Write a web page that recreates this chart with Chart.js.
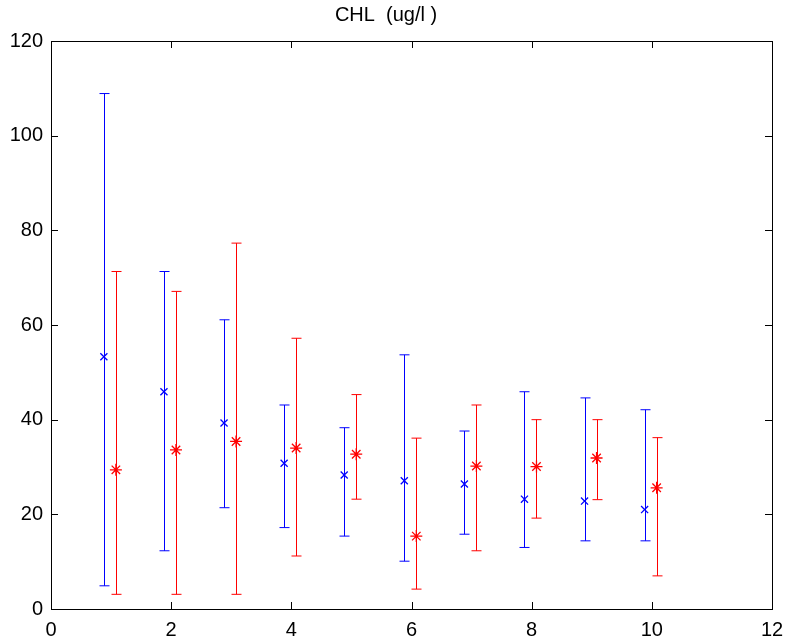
<!DOCTYPE html>
<html>
<head>
<meta charset="utf-8">
<script src="https://cdn.jsdelivr.net/npm/chart.js@4/dist/chart.umd.min.js"></script>
<style>
  html, body { margin: 0; padding: 0; background: #fff; }
  #wrap { width: 788px; height: 640px; }
</style>
</head>
<body>
<div id="wrap"><canvas id="myChart"></canvas></div>
<script>
// station index
var stations = [1, 2, 3, 4, 5, 6, 7, 8, 9, 10];

// blue series (x markers)
var blueMean = [53.3, 45.9, 39.3, 30.8, 28.3, 27.1, 26.4, 23.2, 22.8, 21.0];
var blueLow = [4.9, 12.3, 21.4, 17.2, 15.4, 10.1, 15.8, 13.0, 14.4, 14.4];
var blueHigh = [108.9, 71.3, 61.1, 43.1, 38.3, 53.7, 37.6, 45.9, 44.6, 42.1];

// red series (* markers)
var redMean = [29.4, 33.6, 35.4, 34.0, 32.7, 15.4, 30.2, 30.1, 31.9, 25.6];
var redLow = [3.1, 3.1, 3.1, 11.2, 23.2, 4.2, 12.3, 19.2, 23.1, 7.0];
var redHigh = [71.3, 67.1, 77.3, 57.2, 45.3, 36.1, 43.1, 40.0, 40.0, 36.2];

var xTicks = [0, 2, 4, 6, 8, 10, 12];
var yTicks = [0, 20, 40, 60, 80, 100, 120];

// side-by-side shift so the two bars don't overlap
var blueShift = -0.12;
var redShift = 0.08;

function toPoints(means, shift) {
  return stations.map(function (s, i) {
    return { x: s + shift, y: means[i] };
  });
}

// error bars: vertical line + caps, placed through the chart scales
var errorBars = {
  id: 'errorBars',
  beforeDatasetsDraw: function (chart) {
    var ctx = chart.ctx;
    var xs = chart.scales.x, ys = chart.scales.y;
    chart.data.datasets.forEach(function (ds) {
      ctx.save();
      ctx.strokeStyle = ds.borderColor;
      ctx.lineWidth = 1;
      ds.data.forEach(function (p, i) {
        var px = Math.round(xs.getPixelForValue(p.x)) + 0.5;
        var lo = ys.getPixelForValue(ds.errLow[i]);
        var hi = ys.getPixelForValue(ds.errHigh[i]);
        ctx.beginPath();
        ctx.moveTo(px, lo);
        ctx.lineTo(px, hi);
        ctx.moveTo(px - 5, lo);
        ctx.lineTo(px + 5, lo);
        ctx.moveTo(px - 5, hi);
        ctx.lineTo(px + 5, hi);
        ctx.stroke();
      });
      ctx.restore();
    });
  }
};

// box around the plot with inward tick marks on all four sides
var axisBox = {
  id: 'axisBox',
  afterDraw: function (chart) {
    var ctx = chart.ctx;
    var a = chart.chartArea;
    var xs = chart.scales.x, ys = chart.scales.y;
    var len = 7;
    ctx.save();
    ctx.strokeStyle = '#000';
    ctx.lineWidth = 1;
    ctx.strokeRect(Math.round(a.left) + 0.5, Math.round(a.top) + 0.5,
      Math.round(a.right - a.left), Math.round(a.bottom - a.top));
    ctx.beginPath();
    xTicks.forEach(function (v) {
      var px = Math.round(xs.getPixelForValue(v)) + 0.5;
      ctx.moveTo(px, a.bottom);
      ctx.lineTo(px, a.bottom - len);
      ctx.moveTo(px, a.top);
      ctx.lineTo(px, a.top + len);
    });
    yTicks.forEach(function (v) {
      var py = Math.round(ys.getPixelForValue(v)) + 0.5;
      ctx.moveTo(a.left, py);
      ctx.lineTo(a.left + len, py);
      ctx.moveTo(a.right, py);
      ctx.lineTo(a.right - len, py);
    });
    ctx.stroke();
    ctx.restore();
  }
};

var tickFont = { family: 'Liberation Sans, Arial, sans-serif', size: 20 };

var config = {
  type: 'scatter',
  data: {
    datasets: [
      {
        label: 'blue',
        data: toPoints(blueMean, blueShift),
        errLow: blueLow,
        errHigh: blueHigh,
        borderColor: '#0000ff',
        backgroundColor: '#0000ff',
        pointStyle: 'crossRot',
        pointRadius: 5,
        pointBorderWidth: 1.3,
        pointHoverRadius: 5
      },
      {
        label: 'red',
        data: toPoints(redMean, redShift),
        errLow: redLow,
        errHigh: redHigh,
        borderColor: '#ff0000',
        backgroundColor: '#ff0000',
        pointStyle: 'star',
        pointRadius: 6,
        pointBorderWidth: 1.3,
        pointHoverRadius: 6
      }
    ]
  },
  options: {
    responsive: false,
    animation: false,
    devicePixelRatio: 1,
    layout: { padding: { left: 0, right: 16, top: 0, bottom: 0 } },
    plugins: {
      legend: { display: false },
      tooltip: { enabled: false },
      title: {
        display: true,
        text: 'CHL  (ug/l )',
        color: '#000',
        font: { family: 'Liberation Sans, Arial, sans-serif', size: 20, weight: 'normal', lineHeight: 1.2 },
        padding: { top: 3, bottom: 14 }
      }
    },
    scales: {
      x: {
        type: 'linear',
        min: 0,
        max: 12,
        afterBuildTicks: function (scale) {
          scale.ticks = xTicks.map(function (v) { return { value: v }; });
        },
        afterFit: function (scale) {
          scale.height = 31;
          scale.paddingLeft = 0;
          scale.paddingRight = 0;
        },
        grid: { display: false },
        border: { display: false },
        ticks: { color: '#000', font: tickFont, padding: 1, maxRotation: 0 }
      },
      y: {
        type: 'linear',
        min: 0,
        max: 120,
        afterBuildTicks: function (scale) {
          scale.ticks = yTicks.map(function (v) { return { value: v }; });
        },
        afterFit: function (scale) {
          scale.width = 51;
          scale.paddingTop = 0;
          scale.paddingBottom = 0;
        },
        grid: { display: false },
        border: { display: false },
        ticks: { color: '#000', font: tickFont, padding: 0 }
      }
    }
  },
  plugins: [errorBars, axisBox]
};

var canvas = document.getElementById('myChart');
canvas.width = 788;
canvas.height = 640;
var chart = new Chart(canvas, config);
</script>
</body>
</html>
